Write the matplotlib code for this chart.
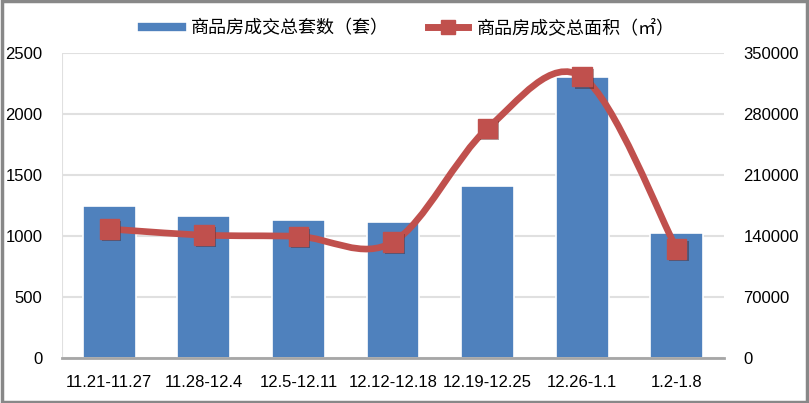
import matplotlib
matplotlib.use("Agg")
import matplotlib.pyplot as plt
from matplotlib.path import Path
from matplotlib.patches import PathPatch
from matplotlib.lines import Line2D
import matplotlib.patheffects as pe
import numpy as np

plt.rcParams['font.family'] = ['Liberation Sans Narrow', 'Liberation Sans', 'Noto Sans CJK SC', 'DejaVu Sans']

weeks = ['11.21-11.27', '11.28-12.4', '12.5-12.11', '12.12-12.18',
         '12.19-12.25', '12.26-1.1', '1.2-1.8']
units = [1246, 1164, 1131, 1115, 1410, 2301, 1027]
area = [148000, 141000, 139500, 133000, 263600, 322800, 125000]
bar_name = '商品房成交总套数（套）'
line_name = '商品房成交总面积（㎡）'

bar_color = '#4f81bd'
line_color = '#c0504d'

fig = plt.figure(figsize=(8.09, 4.03), dpi=100)
ax = fig.add_axes([0.0766, 0.1117, 0.8184, 0.7568])
ax2 = ax.twinx()

x = np.arange(len(weeks))
ax.bar(x, units, width=0.56, color=bar_color, edgecolor='white', linewidth=1.2,
       zorder=2)
ax.set_xlim(-0.5, len(weeks) - 0.5)
ax.set_ylim(0, 2500)
ax.set_yticks(range(0, 2501, 500))
ax.set_xticks(x)
ax.set_xticklabels(weeks)
ax.yaxis.grid(True, color='#e0e0e0', linewidth=1.5, zorder=0)
ax.set_axisbelow(True)

# smoothed line (bezier segments through the data points)
verts = [(x[0], area[0])]
codes = [Path.MOVETO]
n = len(x)
for i in range(n - 1):
    p0 = np.array([x[max(i - 1, 0)], area[max(i - 1, 0)]], float)
    p1 = np.array([x[i], area[i]], float)
    p2 = np.array([x[i + 1], area[i + 1]], float)
    p3 = np.array([x[min(i + 2, n - 1)], area[min(i + 2, n - 1)]], float)
    c1 = p1 + (p2 - p0) / 6
    c2 = p2 - (p3 - p1) / 6
    verts += [tuple(c1), tuple(c2), tuple(p2)]
    codes += [Path.CURVE4] * 3
ax2.add_patch(PathPatch(Path(verts, codes), facecolor='none', edgecolor=line_color,
                        linewidth=4.8, capstyle='round', zorder=3))
ax2.plot(x, area, linestyle='none', marker='s', markersize=14, color=line_color,
         markeredgecolor=line_color, zorder=4,
         path_effects=[pe.SimplePatchShadow(offset=(1.5, -1.5), alpha=0.4), pe.Normal()])
ax2.set_ylim(0, 350000)
ax2.set_yticks(range(0, 350001, 70000))

for a in (ax, ax2):
    a.tick_params(length=0, labelsize=12, colors='#000000')
    for s in a.spines.values():
        s.set_visible(False)
ax.spines['bottom'].set_visible(True)
ax.spines['bottom'].set_color('#a6a6a6')
ax.spines['bottom'].set_linewidth(2)
ax.tick_params(axis='x', pad=12)
ax.tick_params(axis='y', pad=14)
ax2.tick_params(axis='y', pad=14)
ax.axvline(-0.5, color='#e0e0e0', linewidth=1.5, zorder=0)

handles = [Line2D([0], [0], color=bar_color, linewidth=6),
           Line2D([0], [0], color=line_color, linewidth=5, marker='s', markersize=10)]
fig.legend(handles, [bar_name, line_name], loc='center', bbox_to_anchor=(0.505, 0.93),
           ncol=2, frameon=False, handlelength=2.2, handletextpad=0.5, columnspacing=2.2,
           prop={'family': ['Noto Sans CJK SC', 'DejaVu Sans'], 'size': 13})

fig.patches.append(plt.Rectangle((0.002, 0.003), 0.996, 0.994, transform=fig.transFigure,
                                 fill=False, edgecolor='#888888', linewidth=2.5))

fig.savefig('out.png', dpi=100)
